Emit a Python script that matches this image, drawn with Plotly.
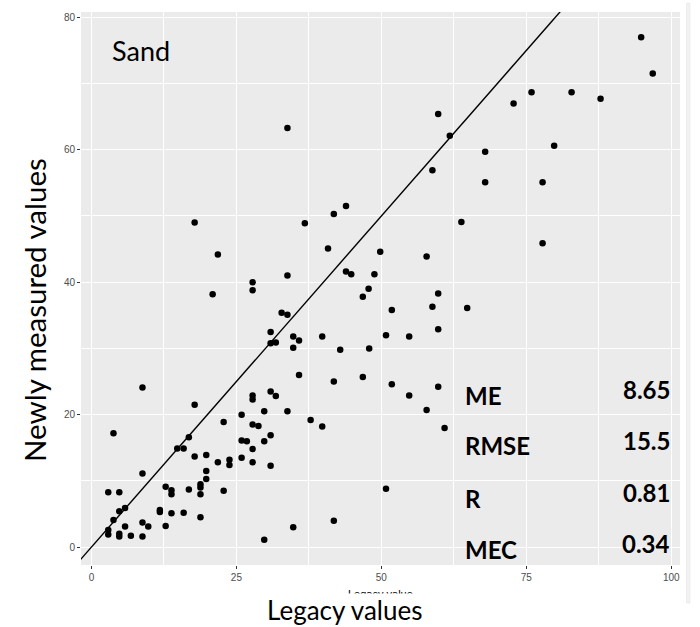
import plotly.graph_objects as go

# Legacy vs newly measured sand content (%)
legacy = [
    33.8, 17.8, 21.8, 36.8, 41.8, 43.9, 40.8, 49.8,
    27.8, 27.8, 20.9, 33.8, 43.9, 44.8, 48.8, 47.8, 46.8,
    94.8, 96.8, 75.9, 82.8, 87.8, 72.8, 59.8, 61.8, 67.9, 79.8, 58.8, 67.9, 77.8, 63.8, 77.8, 57.8, 59.8,
    32.8, 33.8, 30.9, 30.9, 31.8, 34.8, 35.8, 34.8, 39.8, 42.9, 47.9, 50.8, 51.8,
    35.8, 41.8, 46.8, 51.8, 8.8, 17.8, 27.8, 27.8, 30.9, 31.8, 29.8, 33.8, 25.9, 22.8, 37.8, 39.8,
    3.8, 16.8, 27.8, 28.8, 30.9, 25.9, 26.8, 29.8, 27.8, 14.8, 15.9, 17.8, 19.8, 21.8, 23.8, 23.8,
    25.9, 27.8, 30.9, 19.8, 19.8, 8.8, 18.8, 18.8, 18.8, 16.8, 22.8, 12.8, 13.8, 13.8, 2.9, 4.8,
    5.8, 4.8, 3.8, 2.9, 2.9, 4.8, 4.8, 5.8, 6.8, 8.8, 8.8, 9.8, 11.8, 11.8, 12.8, 13.8, 15.9, 18.8,
    29.8, 34.8, 41.8, 50.8,
    58.8, 64.8, 59.8, 54.8, 54.8, 59.8, 57.8, 60.9,
]
measured = [
    63.3, 49.0, 44.2, 48.9, 50.3, 51.5, 45.1, 44.6,
    40.0, 38.8, 38.2, 41.0, 41.6, 41.2, 41.2, 39.0, 37.8,
    77.0, 71.5, 68.7, 68.7, 67.7, 67.0, 65.4, 62.1, 59.7, 60.6, 56.9, 55.1, 55.1, 49.1, 45.9, 43.9, 38.3,
    35.4, 35.1, 32.5, 30.8, 30.9, 31.8, 31.2, 30.1, 31.8, 29.8, 30.0, 32.0, 35.8,
    26.0, 25.0, 25.7, 24.6, 24.1, 21.5, 22.9, 22.3, 23.5, 22.8, 20.5, 20.5, 20.0, 18.9, 19.2, 18.2,
    17.2, 16.6, 18.5, 18.3, 16.9, 16.1, 16.0, 16.0, 14.8, 14.9, 14.9, 13.7, 13.9, 12.8, 13.2, 12.4,
    13.5, 12.8, 12.3, 11.5, 10.3, 11.1, 9.5, 9.0, 8.0, 8.7, 8.5, 9.1, 8.6, 8.0, 8.3, 8.3,
    5.9, 5.4, 4.1, 2.6, 1.9, 2.0, 1.6, 3.1, 1.7, 3.7, 1.6, 3.1, 5.6, 5.3, 3.2, 5.1, 5.2, 4.5,
    1.1, 3.0, 4.0, 8.8,
    36.3, 36.1, 32.9, 31.8, 22.9, 24.2, 20.7, 18.0,
]

stat_names = ["ME", "RMSE", "R", "MEC"]
stat_values = ["8.65", "15.5", "0.81", "0.34"]

x_ticks = [0, 25, 50, 75, 100]
y_ticks = [0, 20, 40, 60, 80]

W, H = 700, 627
L, R, T, B = 81, 20, 12, 62
PW, PH = W - L - R, H - T - B


def px(xp):
    return (xp - L) / PW


def py(yp):
    return (H - B - yp) / PH


fig = go.Figure()

# 1:1 reference line
fig.add_trace(go.Scatter(
    x=[-10, 110], y=[-10, 110], mode="lines",
    line=dict(color="black", width=1.4), hoverinfo="skip", showlegend=False,
))

fig.add_trace(go.Scatter(
    x=legacy, y=measured, mode="markers",
    marker=dict(color="black", size=6.5, line=dict(width=0)),
    showlegend=False,
))

axis_common = dict(
    showgrid=True, gridcolor="white", gridwidth=1.4,
    zeroline=False, showline=False,
    ticks="outside", ticklen=3, tickwidth=1, tickcolor="#333333",
    tickfont=dict(family="Liberation Sans", size=10, color="#4d4d4d"),
    minor=dict(showgrid=True, gridcolor="white", gridwidth=0.7),
)

fig.update_xaxes(range=[-1.8, 101.5], tickvals=x_ticks,
                 minor_tickvals=[12.5, 37.5, 62.5, 87.5], **axis_common)
fig.update_yaxes(range=[-2.7, 80.8], tickvals=y_ticks,
                 minor_tickvals=[10, 30, 50, 70], **axis_common)

ann = []
bold = dict(family="Lato", size=24, color="black", weight="bold")

ann.append(dict(text="Sand", x=px(111), y=py(50), xanchor="left", yanchor="middle",
                font=dict(family="Lato", size=27, color="black")))

label_y = [395.5, 445.5, 498.7, 549]
value_y = [389.5, 440.5, 492.5, 543]
for name, yv in zip(stat_names, label_y):
    ann.append(dict(text=name, x=px(464), y=py(yv), xanchor="left", yanchor="middle",
                    font=bold))
for val, yv in zip(stat_values, value_y):
    ann.append(dict(text=val, x=px(671), y=py(yv), xanchor="right", yanchor="middle",
                    font=bold))

ann.append(dict(text="Newly measured values", x=px(34), y=py(310), textangle=-90,
                xanchor="center", yanchor="middle",
                font=dict(family="Lato", size=29.5, color="black")))

# small axis title partly hidden under the large caption
ann.append(dict(text="Legacy value", x=px(380), y=py(587), xanchor="center",
                yanchor="top", font=dict(family="Liberation Sans", size=11, color="black")))
ann.append(dict(text="Legacy values", x=px(344), y=py(592.5), xanchor="center",
                yanchor="top", font=dict(family="Lato", size=26, color="black"),
                bgcolor="white"))

for a in ann:
    a.setdefault("borderpad", 0)
    a.update(xref="paper", yref="paper", showarrow=False)

fig.update_layout(
    width=W, height=H,
    margin=dict(l=L, r=R, t=T, b=B),
    paper_bgcolor="white", plot_bgcolor="#ebebeb",
    annotations=ann,
    shapes=[dict(type="rect", xref="paper", yref="paper",
                 x0=px(686.5), x1=px(690), y0=py(603), y1=py(3),
                 fillcolor="#f2f2f2", line=dict(color="#e2e2e2", width=0.5), layer="below")],
)

fig.write_html("out.html")
